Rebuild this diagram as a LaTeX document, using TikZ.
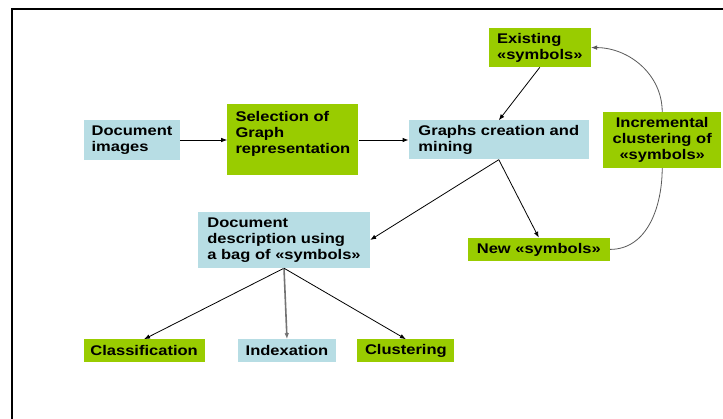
\documentclass[tikz,border=0pt]{standalone}
\usepackage{fontspec}
\setmainfont{Liberation Sans}[FakeStretch=1.18]
\usetikzlibrary{positioning,arrows.meta}
\definecolor{grn}{RGB}{153,204,0}
\definecolor{lblue}{RGB}{183,221,228}

\begin{document}
\begin{tikzpicture}[x=1pt, y=-1pt,
	box/.style = {align=left, inner sep=0pt, font=\fontsize{14}{16}\selectfont\bfseries},
	gbox/.style = {box, fill=grn},
	bbox/.style = {box, fill=lblue},
	arr/.style = {-{Latex[length=6pt,width=4.5pt]}, line width=0.8pt},
	curve/.style = {line width=0.8pt, black!65}]
			\useasboundingbox (0,0) rectangle (723,419);
			\draw[line width=1.5pt] (12,419) |- (723,9);
			
			\node[bbox, minimum width=96pt, minimum height=40pt] (doc) at (132,140) {Document\\images};
			\node[gbox, right=47pt of doc, minimum width=131pt, minimum height=71pt] (sel) {Selection of\\Graph\\representation\\\mbox{}};
			\node[bbox, right=50pt of sel, minimum width=180pt, minimum height=39pt] (graph) {Graphs creation and\\mining};
			\node[gbox, right=14pt of graph, minimum width=118pt, minimum height=56pt, align=center] (incr) {Incremental\\clustering of\\«symbols»};
			\node[gbox, above=53pt of graph, xshift=41pt, minimum width=102pt, minimum height=39pt] (exist) {Existing\\«symbols»};
			\node[gbox, below=78pt of graph, xshift=40pt, minimum width=142pt, minimum height=23pt] (new) {New «symbols»};
			\draw[arr] (doc)--(sel);
			\draw[arr] (sel)--(graph);
			\draw[arr] (exist.south)--(graph.north);
			\draw[arr] (graph.south)--(new.north);
			\draw[curve] (new.east) to[out=0, in=-90] (incr.south);
			\draw[curve, arr] (incr.north) to[out=90, in=0] (exist.east);
			
			\node[bbox, minimum width=172pt, minimum height=56pt] (desc) at (284,240) {Document\\description using\\a bag of «symbols»};
			\draw[arr] (graph.south)--(desc.east);
			\node[bbox, below=71pt of desc, xshift=3pt, minimum width=98pt, minimum height=23pt] (idx) {Indexation};
			\node[gbox, left=33pt of idx, minimum width=121pt, minimum height=23pt] (cls) {Classification};
			\node[gbox, right=21pt of idx, minimum width=97pt, minimum height=23pt] (clu) {Clustering};
			\draw[arr] (desc.south)--(cls.north);
			\draw[arr, line width=1.6pt, black!55] (desc.south)--(idx.north);
			\draw[arr] (desc.south)--(clu.north);
			
\end{tikzpicture}
\end{document}
